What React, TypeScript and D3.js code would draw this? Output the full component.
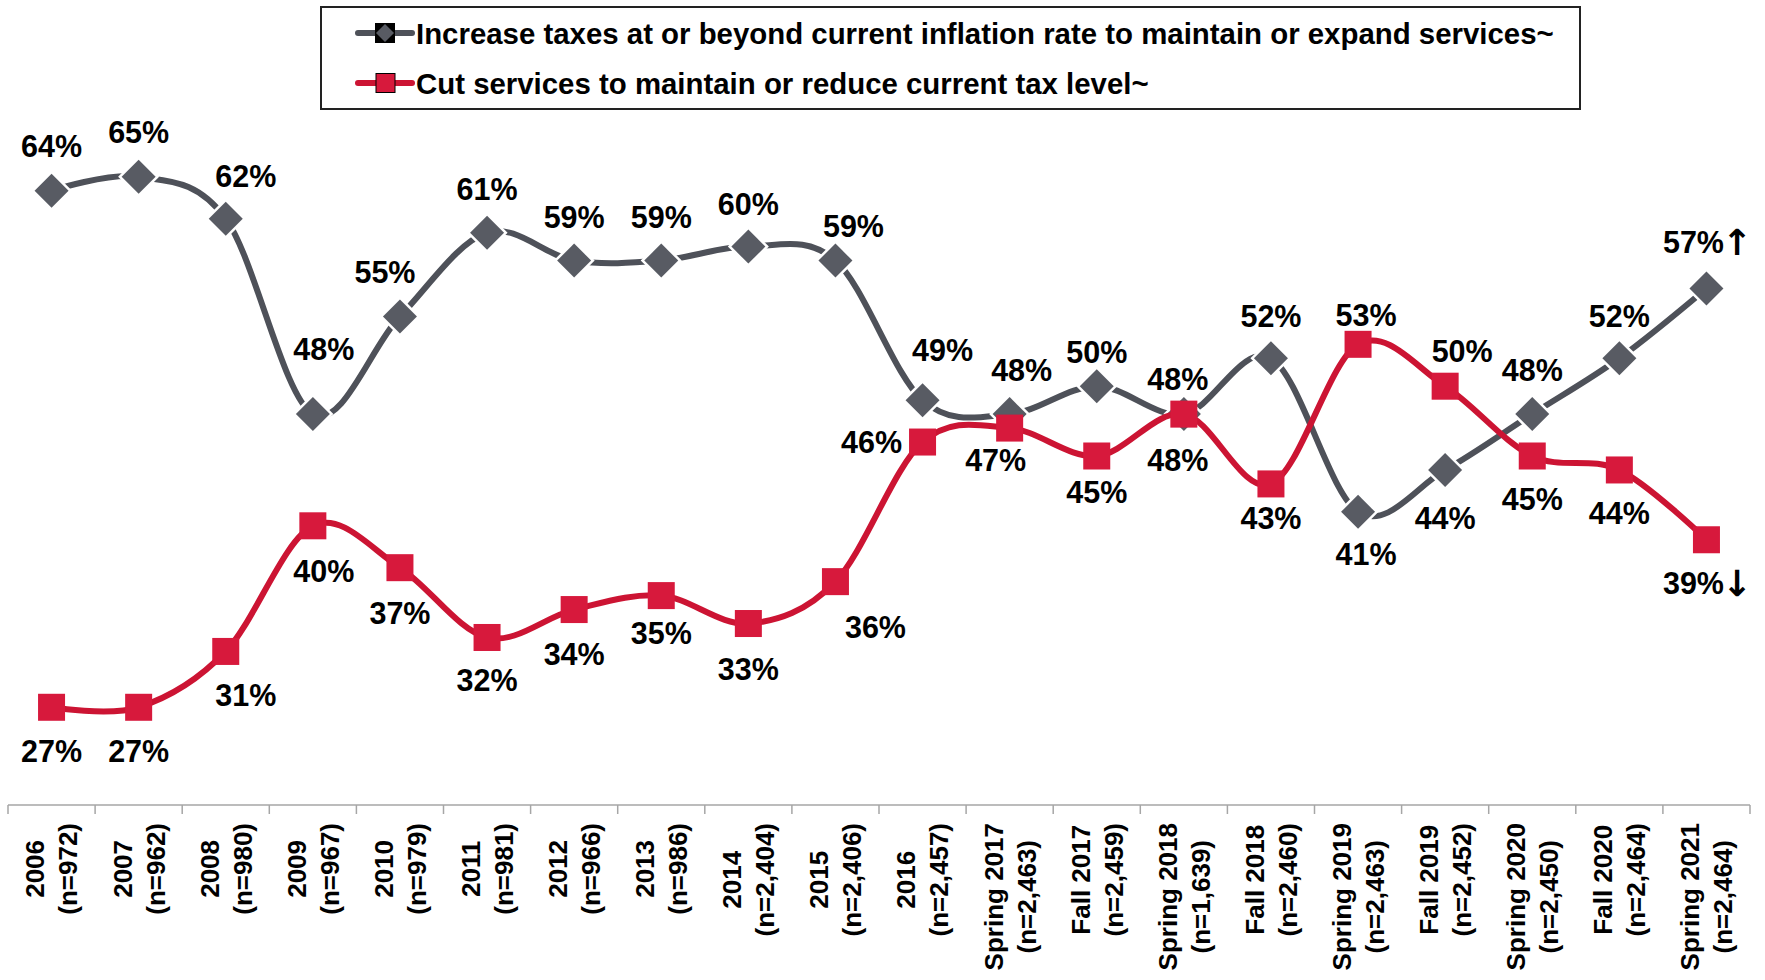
import React from "react";
import * as d3 from "d3";

const categories = [
  "2006", "2007", "2008", "2009", "2010", "2011", "2012", "2013", "2014", "2015", "2016",
  "Spring 2017", "Fall 2017", "Spring 2018", "Fall 2018", "Spring 2019", "Fall 2019",
  "Spring 2020", "Fall 2020", "Spring 2021",
];
const sampleSizes = [
  "(n=972)", "(n=962)", "(n=980)", "(n=967)", "(n=979)", "(n=981)", "(n=966)", "(n=986)",
  "(n=2,404)", "(n=2,406)", "(n=2,457)", "(n=2,463)", "(n=2,459)", "(n=1,639)", "(n=2,460)",
  "(n=2,463)", "(n=2,452)", "(n=2,450)", "(n=2,464)", "(n=2,464)",
];
const increaseTaxes = [64, 65, 62, 48, 55, 61, 59, 59, 60, 59, 49, 48, 50, 48, 52, 41, 44, 48, 52, 57];
const cutServices = [27, 27, 31, 40, 37, 32, 34, 35, 33, 36, 46, 47, 45, 48, 43, 53, 50, 45, 44, 39];
const seriesNames = [
  "Increase taxes at or beyond current inflation rate to maintain or expand services~",
  "Cut services to maintain or reduce current tax level~",
];
const trendArrows = ["↑", "↓"];

// label placement (offset of label centre from its marker)
const increaseLabelOffsets: [number, number][] = [
  [0, -45], [0, -45], [20, -43], [11, -65], [-15, -44], [0, -44], [0, -44], [0, -44], [0, -43],
  [18, -35], [20, -50], [12, -44], [0, -34], [-6, -35], [0, -42], [8, 42], [0, 48], [0, -44],
  [0, -42], [-13, -46],
];
const cutLabelOffsets: [number, number][] = [
  [0, 44], [0, 44], [20, 44], [11, 45], [0, 45], [0, 43], [0, 44], [0, 37], [0, 45], [40, 45],
  [-51, 0], [-14, 32], [0, 36], [-6, 46], [0, 34], [8, -29], [17, -35], [0, 43], [0, 43], [-13, 43],
];

const W = 1765;
const H = 980;
const FONT = "'Liberation Sans', Arial, Helvetica, sans-serif";
const GREY_LINE = "#4e5159";
const GREY_MARK = "#585b63";
const RED_LINE = "#cc1433";
const RED_MARK = "#d7193c";

let ctx: CanvasRenderingContext2D | null = null;
function measure(text: string, size: number): number {
  if (!ctx && typeof document !== "undefined") {
    ctx = document.createElement("canvas").getContext("2d");
  }
  if (ctx) {
    ctx.font = `bold ${size}px ${FONT}`;
    return ctx.measureText(text).width;
  }
  return text.length * size * 0.55;
}

export default function App() {
  const x = d3.scaleBand<string>().domain(categories).range([8, 1750]).paddingInner(0).paddingOuter(0);
  const y = d3.scaleLinear().domain([20, 70]).range([805, 107]);
  const bw = x.bandwidth();
  const cx = (c: string) => (x(c) as number) + bw / 2;

  const line = d3
    .line<number>()
    .x((_, i) => cx(categories[i]))
    .y((d) => y(d))
    .curve(d3.curveCatmullRom.alpha(0));

  const axisY = y(20);
  const ticks = [...categories.map((c) => x(c) as number), 1750];

  const labelFont = 30.5;
  const axisFont = 26;

  const renderLabels = (vals: number[], offs: [number, number][], arrow: string, key: string) =>
    vals.map((v, i) => {
      const lx = cx(categories[i]) + offs[i][0];
      const ly = y(v) + offs[i][1];
      const txt = `${v}%`;
      const isLast = i === vals.length - 1;
      return (
        <g key={key + i}>
          <text x={lx} y={ly} dy="0.36em" textAnchor="middle" fontFamily={FONT} fontWeight="bold" fontSize={labelFont} fill="#000">
            {txt}
          </text>
          {isLast && (
            <text x={lx + measure(txt, labelFont) / 2 - 2} y={ly} dy="0.36em" textAnchor="start" fontFamily="'DejaVu Sans', sans-serif" fontWeight="bold" fontSize={36} fill="#000">
              {arrow}
            </text>
          )}
        </g>
      );
    });

  return (
    <svg width={W} height={H} viewBox={`0 0 ${W} ${H}`} style={{ position: "absolute", left: 0, top: 0, background: "#fff" }}>
      <rect x={0} y={0} width={W} height={H} fill="#fff" />

      {/* x axis */}
      <line x1={8} x2={1750} y1={axisY} y2={axisY} stroke="#a6a6a6" strokeWidth={1.5} />
      {ticks.map((t, i) => (
        <line key={"t" + i} x1={t} x2={t} y1={axisY} y2={axisY + 9} stroke="#a6a6a6" strokeWidth={1.5} />
      ))}
      {categories.map((c, i) => {
        const lines = [c, sampleSizes[i]];
        const maxLen = Math.max(...lines.map((l) => measure(l, axisFont)));
        const yc = 823 + maxLen / 2;
        return lines.map((l, j) => (
          <text
            key={"ax" + i + "-" + j}
            transform={`translate(${cx(c) + (j - 0.5) * 33},${yc}) rotate(-90)`}
            dy="0.36em"
            textAnchor="middle"
            fontFamily={FONT}
            fontWeight="bold"
            fontSize={axisFont}
            fill="#000"
          >
            {l}
          </text>
        ));
      })}

      {/* series 1: increase taxes */}
      <path d={line(increaseTaxes) || ""} fill="none" stroke={GREY_LINE} strokeWidth={6} />
      {increaseTaxes.map((v, i) => {
        const px = cx(categories[i]);
        const py = y(v);
        const r = 17;
        return (
          <path
            key={"d" + i}
            d={`M${px},${py - r}L${px + r},${py}L${px},${py + r}L${px - r},${py}Z`}
            fill={GREY_MARK}
            stroke="#fff"
            strokeWidth={5}
            style={{ paintOrder: "stroke" }}
          />
        );
      })}

      {/* series 2: cut services */}
      <path d={line(cutServices) || ""} fill="none" stroke={RED_LINE} strokeWidth={6} />
      {cutServices.map((v, i) => {
        const px = cx(categories[i]);
        const py = y(v);
        const s = 27;
        return <rect key={"s" + i} x={px - s / 2} y={py - s / 2} width={s} height={s} fill={RED_MARK} />;
      })}

      {renderLabels(increaseTaxes, increaseLabelOffsets, trendArrows[0], "li")}
      {renderLabels(cutServices, cutLabelOffsets, trendArrows[1], "lc")}

      {/* legend */}
      <rect x={321} y={7} width={1259} height={102} fill="#fff" stroke="#222" strokeWidth={2} />
      <line x1={358} x2={412} y1={33} y2={33} stroke={GREY_LINE} strokeWidth={6} strokeLinecap="round" />
      <rect x={375} y={23} width={20} height={20} fill="#000" />
      <path d="M385,24L394,33L385,42L376,33Z" fill={GREY_MARK} />
      <text x={416} y={33} dy="0.36em" fontFamily={FONT} fontWeight="bold" fontSize={29.4} fill="#000">
        {seriesNames[0]}
      </text>
      <line x1={358} x2={412} y1={83} y2={83} stroke={RED_LINE} strokeWidth={6} strokeLinecap="round" />
      <rect x={376} y={73.5} width={19} height={19} fill={RED_MARK} stroke="#000" strokeWidth={1} />
      <text x={416} y={83} dy="0.36em" fontFamily={FONT} fontWeight="bold" fontSize={29.4} fill="#000">
        {seriesNames[1]}
      </text>
    </svg>
  );
}
